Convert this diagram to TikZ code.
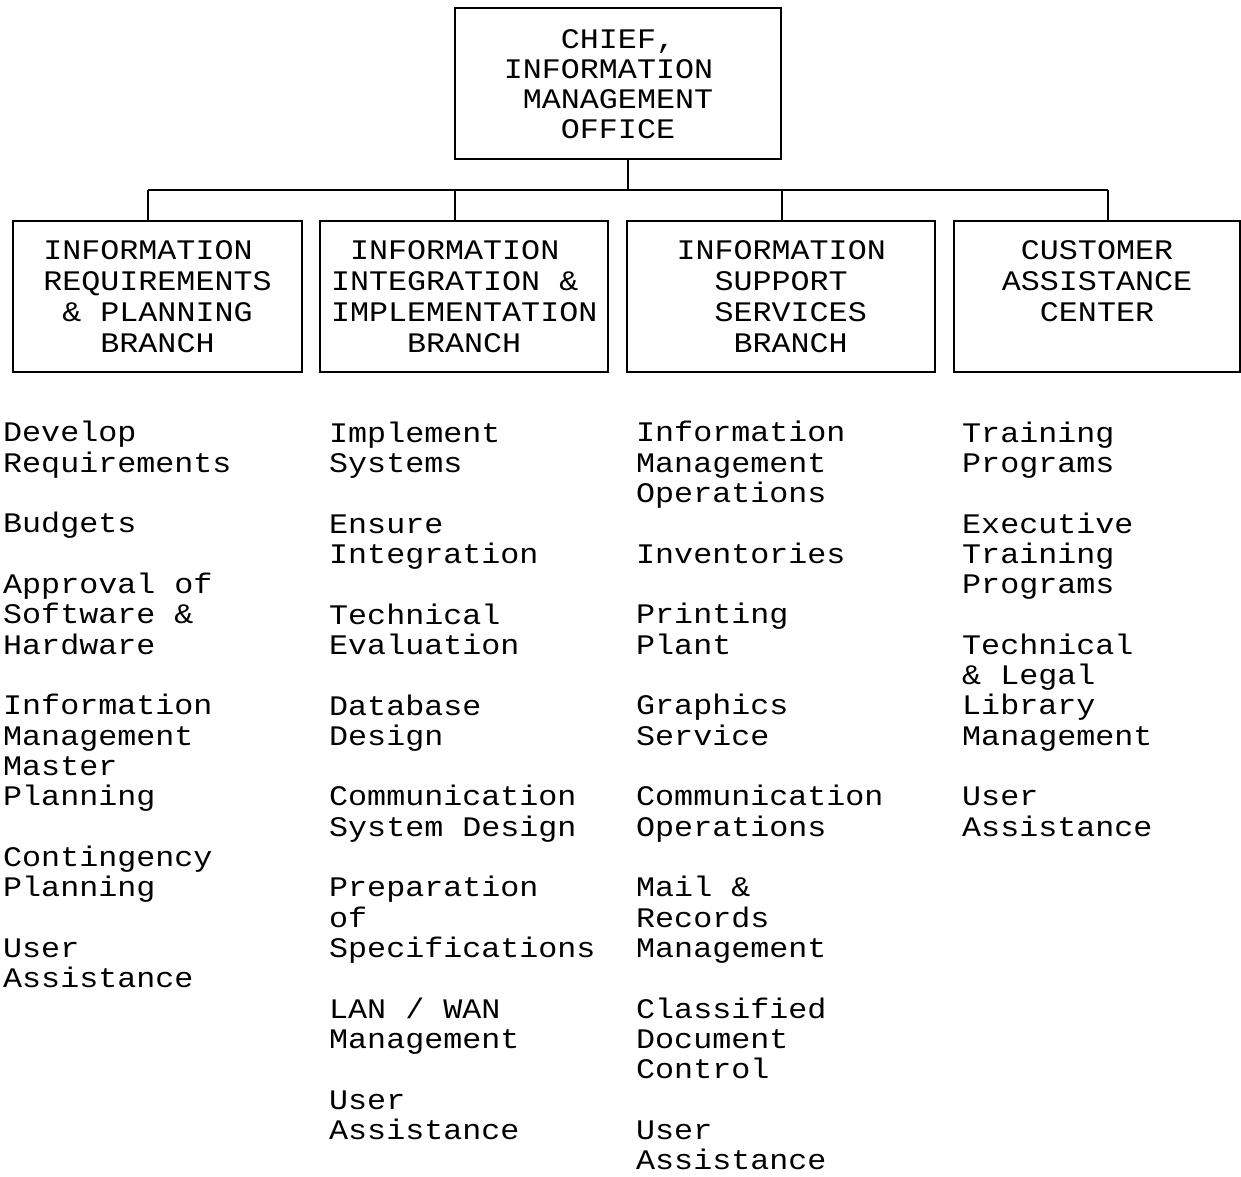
\documentclass[tikz,border=0pt]{standalone}
\usepackage{fontspec}
\setmainfont[FakeStretch=1.12]{Liberation Mono}

\tikzset{
  unitbox/.style={draw, line width=2pt, inner sep=0pt, align=left,
    font=\fontsize{28.3}{30.9}\selectfont},
  dutylist/.style={anchor=base west, inner sep=0pt, align=left,
    font=\fontsize{28.3}{30.33}\selectfont},
}

\begin{document}
\begin{tikzpicture}[x=1pt,y=-1pt]
   \useasboundingbox (0,0) rectangle (1241,1176);
   % office and branches
   \node[unitbox, minimum width=326pt, minimum height=151pt,
     font=\fontsize{28.3}{30}\selectfont] (chief) at (618,83.7)
     {~~~CHIEF,\\INFORMATION\hphantom{X}\\~MANAGEMENT\\~~~OFFICE};
   \node[unitbox, minimum width=288.4pt, minimum height=151.6pt] (reqbox) at (157.5,296.5)
     {INFORMATION\\REQUIREMENTS\\~\&~PLANNING\\~~~BRANCH};
   \node[unitbox, minimum width=288.3pt, minimum height=151.6pt] (intbox) at (464.2,296.5)
     {~INFORMATION\\INTEGRATION~\&\\IMPLEMENTATION\\~~~~BRANCH};
   \node[unitbox, minimum width=307.7pt, minimum height=151.6pt] (supbox) at (781.2,296.5)
     {INFORMATION\\~~SUPPORT\\~~SERVICES\\~~~BRANCH};
   \node[unitbox, minimum width=286pt, minimum height=151.6pt] (cusbox) at (1097,296.5)
     {~CUSTOMER\\ASSISTANCE\\~~CENTER\\\hphantom{X}};
   % connectors
   \coordinate (bus) at (628.3,190);
   \draw[line width=2pt] (bus |- chief.south) -- (bus);
   \foreach \b/\x in {reqbox/148.3, intbox/455, supbox/781.7, cusbox/1107.7} {
    \coordinate (tap-\b) at (\x,190);
    \draw[line width=2pt] (tap-\b) -- (tap-\b |- \b.north);
   }
   \draw[line width=2pt] (tap-reqbox) -- (tap-cusbox);
   % duties (placed by the baseline of their last line)
   \node[dutylist] (reqduties) at (3,987.9)
     {Develop\\Requirements\\~\\Budgets\\~\\Approval of\\Software \&\\Hardware\\~\\%
      Information\\Management\\Master\\Planning\\~\\Contingency\\Planning\\~\\%
      User\\Assistance};
   \node[dutylist] (intduties) at (329,1139.6)
     {Implement\\Systems\\~\\Ensure\\Integration\\~\\Technical\\Evaluation\\~\\%
      Database\\Design\\~\\Communication\\System Design\\~\\Preparation\\of\\%
      Specifications\\~\\LAN / WAN\\Management\\~\\User\\Assistance};
   \node[dutylist] (supduties) at (636,1169.9)
     {Information\\Management\\Operations\\~\\Inventories\\~\\Printing\\Plant\\~\\%
      Graphics\\Service\\~\\Communication\\Operations\\~\\Mail \&\\Records\\%
      Management\\~\\Classified\\Document\\Control\\~\\User\\Assistance};
   \node[dutylist] (cusduties) at (962,836.3)
     {Training\\Programs\\~\\Executive\\Training\\Programs\\~\\Technical\\%
      \& Legal\\Library\\Management\\~\\User\\Assistance};
\end{tikzpicture}
\end{document}
